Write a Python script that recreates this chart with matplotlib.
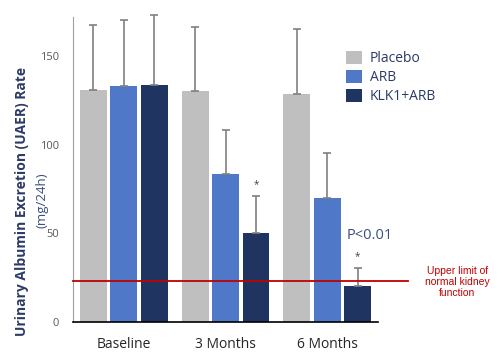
import numpy as np
import matplotlib
matplotlib.use('Agg')
import matplotlib.pyplot as plt

# data
groups = ["Baseline", "3 Months", "6 Months"]
series = ["Placebo", "ARB", "KLK1+ARB"]
placebo = [131, 130.5, 128.6]
arb = [133.3, 83.5, 69.8]
klk1_arb = [133.5, 50, 20.5]
placebo_err = [36.5, 36, 36.5]
arb_err = [37.2, 24.8, 25.3]
klk1_err = [39.5, 21.2, 10]
normal_limit = 23.3
yticks = [0, 50, 100, 150]

colors = ["#BFBFBF", "#4F78C9", "#1F3461"]

plt.rcParams['font.family'] = ['Open Sans', 'DejaVu Sans']

fig = plt.figure(figsize=(5.04, 3.58), dpi=100)
ax = fig.add_axes([0.145, 0.1006, 0.605, 0.852])

x = np.arange(len(groups))
width = 0.265
step = 0.3
values = [placebo, arb, klk1_arb]
errors = [placebo_err, arb_err, klk1_err]
for i, (vals, errs, name, c) in enumerate(zip(values, errors, series, colors)):
    pos = x + (i - 1) * step
    ax.bar(pos, vals, width, color=c, label=name, zorder=2)
    eb = ax.errorbar(pos, vals, yerr=[np.zeros(len(errs)), errs], fmt='none',
                     ecolor='#808080', elinewidth=1.2, capsize=3, capthick=1.2, zorder=3)
    for art in eb.lines[1] + eb.lines[2]:
        art.set_clip_on(False)

# significance stars on KLK1+ARB
for g in [1, 2]:
    top = klk1_arb[g] + klk1_err[g]
    ax.text(x[g] + step, top + 3, "*", ha='center', va='bottom', fontsize=7, color='#404040')

ax.text(x[2] + step + 0.12, 48.5, "P<0.01", ha='center', va='center', fontsize=10.5, color='#3A4F7A')

# normal kidney function limit, runs past the plot area
ax.plot([-0.5, 2.8], [normal_limit, normal_limit], color='#C00000', lw=1.3,
        clip_on=False, zorder=4)
ax.text(3.28, 22.5, "Upper limit of\nnormal kidney\nfunction", ha='center', va='center',
        fontsize=7.5, color='#C00000', family=['Liberation Sans', 'DejaVu Sans'],
        linespacing=1.1)

ax.set_xlim(-0.5, 2.5)
ax.set_ylim(0, 172)
ax.set_yticks(yticks)
ax.set_xticks(x)
ax.set_xticklabels(groups, fontsize=10, color='#262626')
ax.tick_params(axis='y', length=0, labelsize=8, labelcolor='#595959', pad=10)
ax.tick_params(axis='x', length=0, pad=11)
ax.spines['top'].set_visible(False)
ax.spines['right'].set_visible(False)
ax.spines['left'].set_color('#A0A0A0')
ax.spines['bottom'].set_color('black')
ax.spines['bottom'].set_linewidth(1.2)

fig.text(0.044, 0.436, "Urinary Albumin Excretion (UAER) Rate", rotation=90, ha='center',
         va='center', fontsize=10, fontweight='bold', color='#2B3B66')
fig.text(0.084, 0.44, "(mg/24h)", rotation=90, ha='center', va='center',
         fontsize=9.5, color='#3A4F7A')

leg = ax.legend(loc='upper left', bbox_to_anchor=(0.855, 0.93), frameon=False,
                fontsize=10, handlelength=1.1, handleheight=1.1, handletextpad=0.6,
                labelspacing=0.25)
for t in leg.get_texts():
    t.set_color('#2B3B66')

plt.savefig("out.png", dpi=100)
